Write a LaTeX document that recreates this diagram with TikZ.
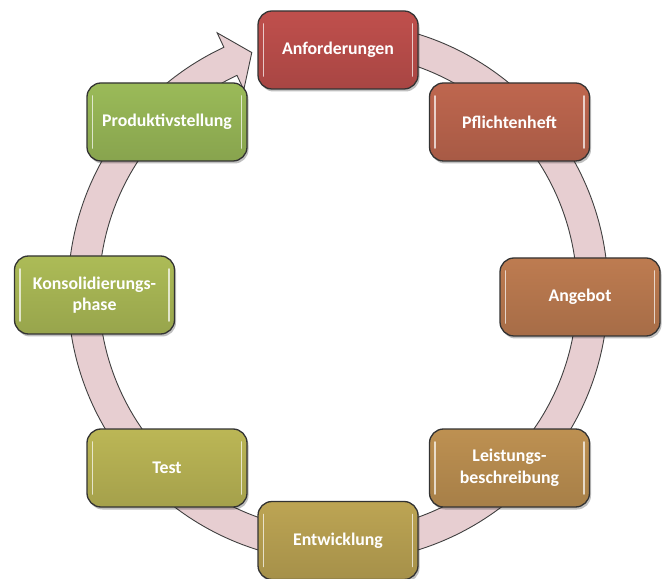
\documentclass[tikz,border=0pt]{standalone}
\usepackage{fontspec}
\setmainfont{Carlito}
\definecolor{cA}{RGB}{192,80,77}
\definecolor{cB}{RGB}{191,103,79}
\definecolor{cC}{RGB}{190,124,81}
\definecolor{cD}{RGB}{190,145,82}
\definecolor{cE}{RGB}{189,165,84}
\definecolor{cF}{RGB}{188,183,86}
\definecolor{cG}{RGB}{173,188,87}
\definecolor{cH}{RGB}{155,187,89}
\definecolor{ringfill}{RGB}{231,206,209}
\definecolor{ringline}{RGB}{64,64,64}
\tikzset{
  stagebox/.style={
    rectangle, rounded corners=14pt, draw=black!80, line width=1.3pt,
    minimum width=160pt, minimum height=78pt,
    fill=#1,
    text=white, align=center,
    font=\bfseries\fontsize{17.8}{21.5}\selectfont,
    preaction={fill=black, opacity=0.25, transform canvas={xshift=1.5pt, yshift=-2.5pt}},
    path picture={
      \fill[top color=white!0!#1, bottom color=black, opacity=0.12, sharp corners]
        (path picture bounding box.north west) rectangle (path picture bounding box.south east);
      \draw[white, opacity=0.7, line width=1.6pt, line cap=round, sharp corners]
        ([xshift=5.5pt,yshift=-13pt]path picture bounding box.north west) --
        ([xshift=5.5pt,yshift=13pt]path picture bounding box.south west);
      \draw[white, opacity=0.7, line width=1.6pt, line cap=round, sharp corners]
        ([xshift=-5.5pt,yshift=-13pt]path picture bounding box.north east) --
        ([xshift=-5.5pt,yshift=13pt]path picture bounding box.south east);
    }
  },
  ringarrow/.style={fill=ringfill, draw=ringline, line width=0.9pt, line join=miter}
}
\begin{document}
\begin{tikzpicture}[x=1pt,y=1pt]
\useasboundingbox (0,0) rectangle (668,578);
% circular arrow
\begin{scope}[shift={(338,286)}]
  \path[ringarrow] (85:270) arc[start angle=85, end angle=-245, radius=270pt]
    -- (115:286) -- (109.8:254.5) -- (115:223) -- (115:239)
    arc[start angle=-245, end angle=85, radius=239pt] -- cycle;
\end{scope}
% stages
\node[stagebox=cA] (anf) at (338,528) {Anforderungen};
\node[stagebox=cB] (pfl) at (509.5,456) {Pflichtenheft};
\node[stagebox=cC] (ang) at (580,281) {Angebot};
\node[stagebox=cD] (lei) at (509.5,110) {Leistungs-\\beschreibung};
\node[stagebox=cE] (ent) at (338,37.5) {Entwicklung};
\node[stagebox=cF] (tst) at (167,110) {Test};
\node[stagebox=cG] (kon) at (94.5,283) {Konsolidierungs-\\phase};
\node[stagebox=cH] (pro) at (167,456) {Produktivstellung};
\end{tikzpicture}
\end{document}
